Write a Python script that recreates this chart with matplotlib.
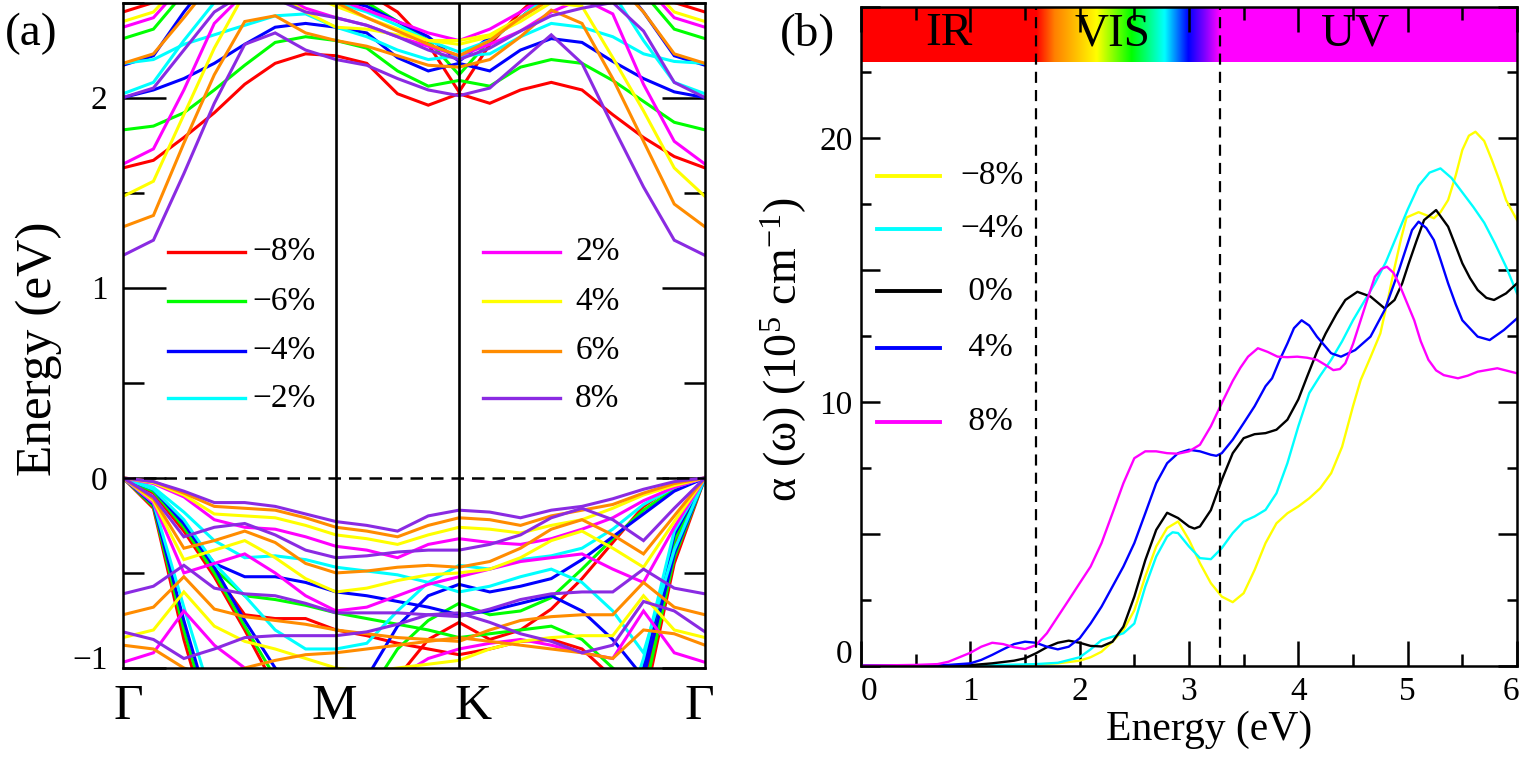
import numpy as np
import matplotlib
matplotlib.use("Agg")
import matplotlib.pyplot as plt
from matplotlib.colors import LinearSegmentedColormap
from matplotlib.ticker import MultipleLocator, FuncFormatter
from matplotlib.transforms import ScaledTranslation

plt.rcParams['font.family'] = ['Liberation Serif', 'DejaVu Serif']
plt.rcParams['mathtext.fontset'] = 'custom'
plt.rcParams['mathtext.rm'] = 'Liberation Serif'
plt.rcParams['mathtext.it'] = 'Liberation Serif:italic'

# ---------------- data: panel (a) band structure ----------------
kpath_labels = ['Γ', 'M', 'K', 'Γ']
seg_lengths = [1 / np.sqrt(3), 1 / 3, 2 / 3]   # Γ-M, M-K, K-Γ
seg_points = [7, 4, 8]

strain_labels = ['−8%', '−6%', '−4%', '−2%', '2%', '4%', '6%', '8%']
strain_colors = ['#ff0000', '#00ff00', '#0000ff', '#00ffff',
                 '#ff00ff', '#ffff00', '#ff8c00', '#8a2be2']

bands_m8 = [
    [1.63, 1.67, 1.79, 1.92, 2.07, 2.18, 2.23, 2.22, 2.18, 2.02, 1.96, 2.02, 1.97, 2.04, 2.08, 2.04, 1.91, 1.79, 1.69, 1.63],
    [2.45, 2.5, 2.62, 2.7, 2.7, 2.65, 2.6, 2.58, 2.55, 2.45, 2.28, 2.03, 2.28, 2.45, 2.6, 2.7, 2.7, 2.62, 2.5, 2.45],
    [0, -0.08, -0.28, -0.52, -0.8, -1.1, -1.3, -1.4, -1.3, -1.05, -0.85, -0.76, -0.85, -0.8, -0.69, -0.53, -0.34, -0.15, -0.04, 0],
    [0, -0.07, -0.27, -0.5, -0.72, -0.74, -0.74, -0.8, -0.83, -0.87, -0.9, -0.93, -0.9, -0.86, -0.85, -0.9, -1.05, -1.2, -0.45, 0],
    [0, -0.16, -0.85, -1.4, -1.6, -1.6, -1.6, -1.6, -1.5, -1.35, -1.2, -1.1, -1.2, -1.35, -1.5, -1.6, -1.5, -1.1, -0.35, 0],
]
bands_m6 = [
    [1.83, 1.85, 1.92, 2.04, 2.17, 2.29, 2.32, 2.30, 2.26, 2.14, 2.06, 2.09, 2.06, 2.16, 2.2, 2.18, 2.09, 1.98, 1.87, 1.83],
    [2.31, 2.36, 2.55, 2.7, 2.7, 2.65, 2.6, 2.55, 2.5, 2.4, 2.3, 2.12, 2.3, 2.42, 2.55, 2.65, 2.7, 2.55, 2.36, 2.31],
    [0, -0.07, -0.26, -0.5, -0.78, -1.05, -1.2, -1.25, -1.15, -0.9, -0.75, -0.66, -0.72, -0.7, -0.63, -0.48, -0.32, -0.17, -0.06, 0],
    [0, -0.07, -0.25, -0.48, -0.62, -0.64, -0.67, -0.71, -0.74, -0.77, -0.8, -0.84, -0.82, -0.8, -0.78, -0.85, -1.0, -1.15, -0.42, 0],
    [0, -0.15, -0.8, -1.35, -1.6, -1.6, -1.6, -1.6, -1.5, -1.35, -1.2, -1.1, -1.2, -1.35, -1.5, -1.6, -1.5, -1.05, -0.33, 0],
]
bands_m4 = [
    [2.0, 2.04, 2.10, 2.18, 2.28, 2.37, 2.39, 2.37, 2.34, 2.21, 2.14, 2.18, 2.14, 2.25, 2.31, 2.29, 2.19, 2.10, 2.03, 2.0],
    [2.17, 2.22, 2.45, 2.65, 2.7, 2.65, 2.58, 2.52, 2.48, 2.4, 2.32, 2.19, 2.32, 2.42, 2.55, 2.65, 2.65, 2.45, 2.22, 2.17],
    [0, -0.06, -0.24, -0.47, -0.75, -1.0, -1.15, -1.2, -1.05, -0.78, -0.62, -0.56, -0.6, -0.57, -0.53, -0.43, -0.31, -0.19, -0.07, 0],
    [0, -0.06, -0.24, -0.45, -0.52, -0.52, -0.55, -0.6, -0.62, -0.65, -0.68, -0.72, -0.7, -0.66, -0.62, -0.7, -0.85, -1.05, -0.4, 0],
    [0, -0.14, -0.75, -1.3, -1.6, -1.6, -1.6, -1.6, -1.5, -1.35, -1.2, -1.1, -1.2, -1.35, -1.5, -1.6, -1.5, -1.0, -0.3, 0],
]
bands_m2 = [
    [2.18, 2.2, 2.28, 2.33, 2.38, 2.43, 2.44, 2.37, 2.32, 2.25, 2.2, 2.22, 2.23, 2.32, 2.39, 2.37, 2.32, 2.23, 2.19, 2.18],
    [2.02, 2.08, 2.3, 2.5, 2.62, 2.6, 2.55, 2.5, 2.45, 2.38, 2.3, 2.24, 2.3, 2.42, 2.55, 2.62, 2.55, 2.3, 2.08, 2.02],
    [0, -0.06, -0.22, -0.45, -0.62, -0.8, -0.9, -0.9, -0.87, -0.7, -0.55, -0.46, -0.48, -0.43, -0.41, -0.37, -0.27, -0.14, -0.05, 0],
    [0, -0.05, -0.18, -0.33, -0.42, -0.41, -0.43, -0.47, -0.49, -0.51, -0.55, -0.6, -0.57, -0.52, -0.48, -0.55, -0.7, -0.92, -0.38, 0],
    [0, -0.13, -0.68, -1.2, -1.55, -1.6, -1.6, -1.6, -1.5, -1.35, -1.2, -1.1, -1.2, -1.35, -1.5, -1.6, -1.45, -0.95, -0.28, 0],
]
bands_p2 = [
    [1.65, 1.73, 2.04, 2.39, 2.55, 2.55, 2.47, 2.42, 2.38, 2.32, 2.27, 2.22, 2.28, 2.35, 2.45, 2.52, 2.44, 2.07, 1.77, 1.65],
    [2.37, 2.42, 2.6, 2.7, 2.7, 2.62, 2.58, 2.52, 2.46, 2.4, 2.34, 2.3, 2.36, 2.45, 2.55, 2.62, 2.7, 2.6, 2.42, 2.37],
    [0, -0.03, -0.1, -0.22, -0.26, -0.27, -0.31, -0.36, -0.38, -0.42, -0.35, -0.32, -0.34, -0.35, -0.32, -0.27, -0.21, -0.12, -0.05, 0],
    [0, -0.13, -0.5, -0.45, -0.4, -0.5, -0.62, -0.7, -0.68, -0.62, -0.56, -0.52, -0.48, -0.44, -0.42, -0.4, -0.48, -0.55, -0.26, 0],
    [-0.97, -0.92, -0.7, -0.88, -1.0, -1.1, -1.15, -1.2, -1.15, -1.05, -0.95, -0.9, -0.87, -0.85, -0.88, -0.92, -0.95, -0.7, -0.92, -0.97],
]
bands_p4 = [
    [1.48, 1.56, 1.91, 2.26, 2.55, 2.55, 2.45, 2.37, 2.36, 2.33, 2.3, 2.28, 2.32, 2.4, 2.5, 2.48, 2.21, 1.93, 1.63, 1.48],
    [2.4, 2.45, 2.62, 2.7, 2.7, 2.62, 2.55, 2.48, 2.42, 2.36, 2.3, 2.3, 2.33, 2.42, 2.52, 2.6, 2.68, 2.62, 2.45, 2.4],
    [0, -0.025, -0.09, -0.19, -0.2, -0.21, -0.25, -0.3, -0.32, -0.35, -0.3, -0.26, -0.27, -0.29, -0.25, -0.22, -0.16, -0.09, -0.04, 0],
    [0, -0.12, -0.43, -0.38, -0.33, -0.42, -0.53, -0.6, -0.58, -0.54, -0.51, -0.5, -0.48, -0.42, -0.33, -0.28, -0.37, -0.47, -0.23, 0],
    [-0.84, -0.8, -0.6, -0.78, -0.86, -0.9, -0.95, -1.0, -1.02, -1.0, -0.98, -0.96, -0.9, -0.86, -0.84, -0.83, -0.83, -0.62, -0.8, -0.84],
]
bands_p6 = [
    [1.32, 1.38, 1.76, 2.12, 2.4, 2.43, 2.34, 2.3, 2.27, 2.22, 2.17, 2.16, 2.2, 2.32, 2.46, 2.39, 2.1, 1.77, 1.44, 1.32],
    [2.18, 2.23, 2.42, 2.62, 2.7, 2.65, 2.58, 2.5, 2.42, 2.35, 2.28, 2.22, 2.3, 2.42, 2.52, 2.6, 2.62, 2.45, 2.23, 2.18],
    [0, -0.02, -0.08, -0.15, -0.16, -0.17, -0.21, -0.26, -0.28, -0.31, -0.25, -0.21, -0.22, -0.25, -0.2, -0.17, -0.14, -0.08, -0.03, 0],
    [0, -0.11, -0.37, -0.33, -0.28, -0.34, -0.45, -0.5, -0.49, -0.47, -0.46, -0.47, -0.44, -0.37, -0.27, -0.22, -0.3, -0.4, -0.2, 0],
    [-0.72, -0.68, -0.52, -0.69, -0.73, -0.75, -0.77, -0.8, -0.82, -0.84, -0.85, -0.86, -0.8, -0.75, -0.73, -0.72, -0.72, -0.55, -0.68, -0.72],
    [-0.88, -0.9, -1.0, -1.05, -1.0, -0.96, -0.93, -0.92, -0.9, -0.88, -0.86, -0.84, -0.86, -0.88, -0.9, -0.92, -0.95, -0.8, -0.82, -0.88],
]
bands_p8 = [
    [1.17, 1.25, 1.6, 1.97, 2.28, 2.34, 2.25, 2.2, 2.17, 2.1, 2.04, 2.01, 2.05, 2.19, 2.33, 2.18, 1.85, 1.53, 1.25, 1.17],
    [2.0, 2.05, 2.25, 2.45, 2.55, 2.52, 2.45, 2.42, 2.38, 2.32, 2.25, 2.2, 2.26, 2.35, 2.43, 2.47, 2.5, 2.35, 2.08, 2.0],
    [0, -0.02, -0.07, -0.13, -0.13, -0.15, -0.19, -0.23, -0.25, -0.28, -0.2, -0.17, -0.18, -0.21, -0.17, -0.15, -0.11, -0.06, -0.02, 0],
    [0, -0.1, -0.31, -0.26, -0.24, -0.3, -0.38, -0.42, -0.41, -0.39, -0.38, -0.38, -0.35, -0.3, -0.21, -0.16, -0.22, -0.33, -0.16, 0],
    [-0.61, -0.57, -0.46, -0.58, -0.61, -0.62, -0.66, -0.71, -0.71, -0.71, -0.72, -0.73, -0.69, -0.64, -0.61, -0.6, -0.6, -0.48, -0.58, -0.61],
    [-0.81, -0.85, -0.95, -0.9, -0.84, -0.83, -0.83, -0.83, -0.81, -0.77, -0.72, -0.71, -0.76, -0.82, -0.86, -0.92, -0.88, -0.65, -0.7, -0.81],
]
all_bands = [bands_m8, bands_m6, bands_m4, bands_m2, bands_p2, bands_p4, bands_p6, bands_p8]

# ---------------- data: panel (b) absorption ----------------
abs_labels = ['−8%', '−4%', ' 0%', ' 4%', ' 8%']
abs_colors = ['#ffff00', '#00ffff', '#000000', '#0000ff', '#ff00ff']

e_m8 = [0, 1.0, 1.5, 1.8, 2.0, 2.1, 2.2, 2.3, 2.4, 2.5, 2.6, 2.7, 2.8, 2.9, 3.0, 3.1, 3.2, 3.3, 3.4, 3.5, 3.6, 3.7, 3.8, 3.9, 4.0,
        4.1, 4.2, 4.3, 4.4, 4.5, 4.57, 4.66, 4.75, 4.82, 4.88, 4.94, 4.99, 5.1, 5.24, 5.3, 5.37, 5.44, 5.5, 5.56, 5.62, 5.7,
        5.77, 5.84, 5.9, 6.0]
a_m8 = [0, 0, 0.02, 0.09, 0.19, 0.32, 0.53, 0.91, 1.35, 2.1, 3.38, 4.52, 5.22, 5.47, 4.77, 3.89, 3.13, 2.62, 2.41, 2.75, 3.63,
        4.65, 5.4, 5.78, 6.04, 6.35, 6.73, 7.3, 8.3, 9.84, 10.83, 11.7, 12.6, 13.9, 15.1, 16.2, 17.0, 17.2, 16.97, 17.2, 17.66,
        18.6, 19.56, 20.1, 20.25, 19.9, 19.18, 18.4, 17.66, 16.9]

e_m4 = [0, 1.0, 1.6, 1.8, 2.0, 2.1, 2.2, 2.3, 2.4, 2.5, 2.6, 2.7, 2.8, 2.85, 2.9, 3.0, 3.1, 3.2, 3.3, 3.4, 3.5, 3.6, 3.7, 3.8,
        3.9, 4.0, 4.1, 4.2, 4.3, 4.4, 4.5, 4.6, 4.7, 4.8, 4.9, 5.0, 5.1, 5.2, 5.3, 5.4, 5.5, 5.6, 5.7, 5.8, 5.9, 6.0]
a_m4 = [0, 0, 0.06, 0.11, 0.32, 0.62, 0.97, 1.1, 1.23, 1.6, 3.0, 4.14, 4.9, 5.06, 5.03, 4.52, 4.08, 4.04, 4.46, 5.03, 5.47,
        5.66, 5.91, 6.54, 7.68, 9.08, 10.34, 11.0, 11.6, 12.3, 13.1, 13.8, 14.5, 15.3, 16.3, 17.3, 18.2, 18.7, 18.86, 18.5,
        17.95, 17.4, 16.8, 16.0, 15.13, 14.12]

e_0 = [0, 0.5, 0.8, 1.0, 1.2, 1.4, 1.5, 1.6, 1.7, 1.8, 1.9, 2.0, 2.1, 2.2, 2.3, 2.4, 2.5, 2.6, 2.7, 2.8, 2.9, 3.0, 3.05, 3.1,
       3.2, 3.3, 3.4, 3.5, 3.6, 3.7, 3.8, 3.9, 4.0, 4.08, 4.17, 4.25, 4.35, 4.43, 4.54, 4.66, 4.79, 4.88, 4.95, 5.01, 5.08,
       5.15, 5.26, 5.37, 5.45, 5.5, 5.57, 5.64, 5.72, 5.79, 5.9, 6.0]
a_0 = [0, 0, 0.01, 0.02, 0.09, 0.19, 0.28, 0.47, 0.7, 0.87, 0.95, 0.87, 0.75, 0.73, 0.91, 1.48, 2.62, 4.0, 5.15, 5.8, 5.6,
       5.28, 5.2, 5.28, 5.9, 7.05, 8.06, 8.63, 8.78, 8.82, 8.95, 9.33, 10.1, 10.96, 11.9, 12.6, 13.35, 13.87, 14.18, 14.0,
       13.55, 13.87, 14.5, 15.26, 16.1, 16.9, 17.28, 16.65, 15.8, 15.26, 14.7, 14.25, 13.95, 13.87, 14.12, 14.5]

e_p4 = [0, 0.5, 0.8, 1.0, 1.1, 1.2, 1.3, 1.4, 1.5, 1.6, 1.7, 1.8, 1.9, 2.0, 2.1, 2.2, 2.3, 2.4, 2.5, 2.6, 2.7, 2.8, 2.9, 3.0,
        3.1, 3.2, 3.25, 3.3, 3.4, 3.5, 3.6, 3.7, 3.76, 3.83, 3.9, 3.96, 4.03, 4.1, 4.17, 4.3, 4.39, 4.52, 4.66, 4.79, 4.92,
        5.04, 5.1, 5.17, 5.24, 5.3, 5.37, 5.44, 5.5, 5.64, 5.75, 5.88, 6.0]
a_p4 = [0, 0.01, 0.03, 0.09, 0.22, 0.41, 0.62, 0.82, 0.91, 0.87, 0.72, 0.62, 0.72, 1.04, 1.6, 2.24, 3.0, 3.76, 4.65, 5.78,
        6.92, 7.68, 8.06, 8.19, 8.13, 8.0, 7.96, 8.06, 8.57, 9.2, 9.84, 10.6, 10.9, 11.6, 12.22, 12.8, 13.1, 12.9, 12.48,
        11.85, 11.72, 11.97, 12.48, 13.49, 15.0, 16.52, 16.84, 16.6, 16.14, 15.4, 14.5, 13.7, 13.1, 12.48, 12.35, 12.73, 13.17]

e_p8 = [0, 0.5, 0.7, 0.8, 0.9, 1.0, 1.1, 1.2, 1.3, 1.4, 1.5, 1.6, 1.7, 1.8, 1.9, 2.0, 2.1, 2.2, 2.3, 2.4, 2.5, 2.6, 2.7, 2.8,
        2.9, 3.0, 3.1, 3.2, 3.3, 3.4, 3.47, 3.54, 3.63, 3.72, 3.81, 3.9, 3.99, 4.08, 4.17, 4.25, 4.32, 4.38, 4.43, 4.5, 4.57,
        4.64, 4.7, 4.76, 4.81, 4.87, 4.92, 4.99, 5.06, 5.12, 5.19, 5.26, 5.33, 5.46, 5.55, 5.64, 5.82, 6.0]
a_p8 = [0, 0.03, 0.06, 0.15, 0.32, 0.49, 0.72, 0.87, 0.82, 0.7, 0.63, 0.78, 1.23, 1.86, 2.49, 3.13, 3.76, 4.65, 5.78, 6.92,
        7.87, 8.13, 8.13, 8.06, 8.04, 8.13, 8.38, 9.08, 9.96, 10.8, 11.3, 11.72, 12.04, 11.9, 11.72, 11.7, 11.72, 11.68, 11.6,
        11.4, 11.21, 11.25, 11.47, 12.2, 13.1, 14.0, 14.75, 15.05, 15.13, 14.9, 14.5, 13.8, 13.1, 12.3, 11.6, 11.2, 11.02,
        10.9, 11.0, 11.15, 11.28, 11.09]

abs_energies = [e_m8, e_m4, e_0, e_p4, e_p8]
abs_values = [a_m8, a_m4, a_0, a_p4, a_p8]

region_labels = ['IR', 'VIS', 'UV']
vis_edges = [1.6, 3.28]
vis_colors = ['#ff0000', '#ff8000', '#ffff00', '#00ff00', '#00ffff', '#0000ff', '#8000ff', '#ff00ff']
vis_stops = [0.0, 0.1, 0.33, 0.52, 0.7, 0.83, 0.92, 1.0]

# ---------------- figure ----------------
W, H = 1521, 758
fig = plt.figure(figsize=(W / 100, H / 100), dpi=100)

def ax_rect(l, t, r, b):
    return [l / W, 1 - b / H, (r - l) / W, (b - t) / H]

def nudge(label, dx_px, dy_px):
    label.set_transform(label.get_transform() + ScaledTranslation(dx_px / 100, dy_px / 100, fig.dpi_scale_trans))

ax1 = fig.add_axes(ax_rect(123, 2.5, 705, 668))
ax2 = fig.add_axes(ax_rect(861, 6.5, 1517, 665.7))

for ax in (ax1, ax2):
    for s in ax.spines.values():
        s.set_linewidth(1.8)

# ---- panel (a)
seg_x = [0.0]
for L, n in zip(seg_lengths, seg_points):
    seg_x.extend(list(seg_x[-1] + np.linspace(0, L, n + 1)[1:]))
kx = np.array(seg_x)
kticks = [0, sum(seg_lengths[:1]), sum(seg_lengths[:2]), sum(seg_lengths)]

for bands, col in zip(all_bands, strain_colors):
    for b in bands:
        ax1.plot(kx, b, color=col, lw=2.2, solid_joinstyle='miter', zorder=2)

ax1.axhline(0, color='black', lw=1.8, ls=(0, (5, 3.2)), zorder=3)
for kv in kticks[1:3]:
    ax1.axvline(kv, color='black', lw=1.9, zorder=3)
ax1.set_xlim(0, kticks[-1])
ax1.set_ylim(-1, 2.5)
ax1.set_xticks(kticks)
ax1.set_xticklabels(kpath_labels, fontsize=37)
ax1.tick_params(axis='x', length=0, pad=11)
ax1.set_yticks([-1, 0, 1, 2])
ax1.yaxis.set_minor_locator(MultipleLocator(0.5))
ax1.tick_params(axis='y', which='major', direction='in', length=31, width=1.8,
                left=True, right=True, labelsize=24, pad=11)
ax1.tick_params(axis='y', which='minor', direction='in', length=15, width=1.8,
                left=True, right=True)
ax1.set_ylabel('Energy (eV)', fontsize=37)
ax1.yaxis.set_label_coords(-0.105, 0.48)

leg_rows = [0.625, 0.551, 0.477, 0.405]
leg_cols = [(0.077, 0.21, 0.223), (0.619, 0.751, 0.777)]
for i, (lab, col) in enumerate(zip(strain_labels, strain_colors)):
    c = leg_cols[i // 4]
    r = leg_rows[i % 4]
    ax1.plot([c[0], c[1]], [r, r], color=col, lw=2.4, transform=ax1.transAxes, clip_on=False, zorder=4)
    ax1.text(c[2], r, lab, fontsize=24, va='center', ha='left', transform=ax1.transAxes)

# ---- panel (b)
band_lo, band_hi = 22.9, 25
ax2.fill_between([0, vis_edges[0]], band_lo, band_hi, color='#ff0000', lw=0, zorder=1)
ax2.fill_between([vis_edges[1], 6], band_lo, band_hi, color='#ff00ff', lw=0, zorder=1)
cmap = LinearSegmentedColormap.from_list('vis', list(zip(vis_stops, vis_colors)))
grad = np.linspace(0, 1, 256)[None, :]
ax2.imshow(grad, cmap=cmap, aspect='auto', extent=[vis_edges[0], vis_edges[1], band_lo, band_hi],
           zorder=1, interpolation='bilinear')
ax2.text(0.8, 23.95, region_labels[0], fontsize=34, ha='center', va='center', zorder=4)
ax2.text(2.3, 23.95, region_labels[1], fontsize=34, ha='center', va='center', zorder=4)
ax2.text(4.52, 23.95, region_labels[2], fontsize=34, ha='center', va='center', zorder=4)

for e, a, col in zip(abs_energies, abs_values, abs_colors):
    ax2.plot(e, a, color=col, lw=1.7, zorder=2)

for xv in vis_edges:
    ax2.axvline(xv, color='black', lw=1.6, ls=(0, (5, 3.2)), zorder=3)

ax2.set_xlim(0, 6)
ax2.set_ylim(0, 25)
ax2.xaxis.set_major_locator(MultipleLocator(1))
ax2.xaxis.set_minor_locator(MultipleLocator(0.5))
ax2.yaxis.set_major_locator(MultipleLocator(5))
ax2.yaxis.set_minor_locator(MultipleLocator(2.5))
ax2.yaxis.set_major_formatter(FuncFormatter(lambda v, p: f'{v:g}' if abs(v % 10) < 1e-6 else ''))
ax2.tick_params(axis='x', which='major', direction='in', length=18, width=1.8, top=True, bottom=True,
                labelsize=24, pad=8)
ax2.tick_params(axis='x', which='minor', direction='in', length=9, width=1.8, top=True, bottom=True)
ax2.tick_params(axis='y', which='major', direction='in', length=14, width=1.8, left=True, right=True,
                labelsize=24, pad=6)
ax2.tick_params(axis='y', which='minor', direction='in', length=7, width=1.8, left=True, right=True)
ax2.set_xlabel('Energy (eV)', fontsize=30)
ax2.xaxis.set_label_coords(0.53, -0.068)
ax2.set_ylabel(r'α (ω) (10$^{5}$ cm$^{-1}$)', fontsize=33)
ax2.yaxis.set_label_coords(-0.079, 0.48)

leg2_rows = [0.743, 0.663, 0.568, 0.482, 0.370]
for lab, col, r in zip(abs_labels, abs_colors, leg2_rows):
    ax2.plot([0.024, 0.12], [r, r], color=col, lw=2.8, transform=ax2.transAxes, zorder=4)
    ax2.text(0.151, r, lab, fontsize=24, va='center', ha='left', transform=ax2.transAxes)

fig.text(31 / W, 1 - 34 / H, '(a)', fontsize=34, ha='center', va='center')
fig.text(808 / W, 1 - 34 / H, '(b)', fontsize=34, ha='center', va='center')

# small label offsets, applied after the ticks exist
fig.canvas.draw()
for lab, dx in zip(ax1.get_xticklabels(), [5, -2, 14, -6]):
    nudge(lab, dx, 0)
for lab in ax1.get_yticklabels():
    if lab.get_text() in ('−1', '-1'):
        nudge(lab, 0, 11)
for lab in ax2.get_xticklabels():
    if lab.get_text() == '0':
        nudge(lab, 8, 0)
    elif lab.get_text() == '6':
        nudge(lab, -6, 0)
for lab in ax2.get_yticklabels():
    if lab.get_text() == '0':
        nudge(lab, 0, 14)

fig.savefig('out.png', dpi=100)
